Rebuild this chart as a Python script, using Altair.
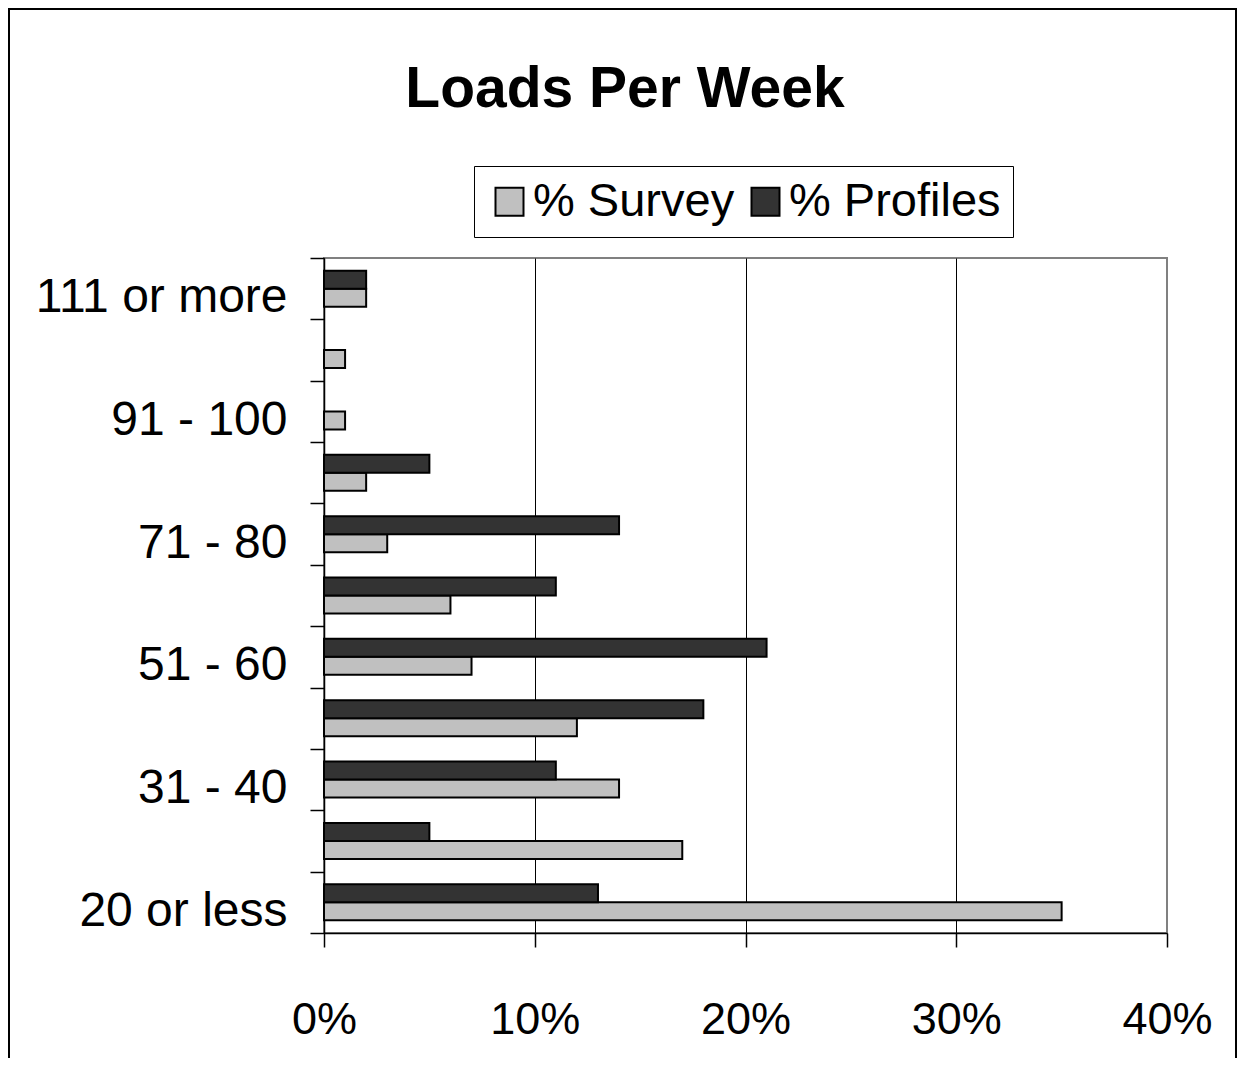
import json
import altair as alt
import pandas as pd

# ---- data ----
categories = ["111 or more", "101 - 110", "91 - 100", "81 - 90", "71 - 80",
              "61 - 70", "51 - 60", "41 - 50", "31 - 40", "21 - 30", "20 or less"]
survey = [2, 1, 1, 2, 3, 6, 7, 12, 14, 17, 35]
profiles = [2, 0, 0, 5, 14, 11, 21, 18, 11, 5, 13]
shown_labels = ["111 or more", "91 - 100", "71 - 80", "51 - 60", "31 - 40", "20 or less"]
series = ["% Survey", "% Profiles"]
series_colors = ["#c0c0c0", "#333333"]
x_ticks = [0, 10, 20, 30, 40]
title_text = "Loads Per Week"

rows = []
for c, s, p in zip(categories, survey, profiles):
    rows.append({"cat": c, "series": "% Survey", "value": s})
    rows.append({"cat": c, "series": "% Profiles", "value": p})
df = pd.DataFrame(rows)

FONT = "Liberation Sans"
W, H = 843, 675
PAD_L, PAD_T = 316, 250
SVG_W, SVG_H = 1229, 1050

label_expr = "indexof(" + json.dumps(shown_labels) + ", datum.label) >= 0 ? datum.label : ''"

bars = alt.Chart(df).transform_filter("datum.value > 0").mark_bar(
    stroke="black", strokeWidth=2
).encode(
    x=alt.X(
        "value:Q",
        scale=alt.Scale(domain=[0, 40], nice=False, zero=True),
        axis=alt.Axis(
            values=x_ticks, labelExpr="datum.value + '%'", title=None,
            grid=True,
            gridColor={"condition": {"test": "datum.value === 40", "value": "#808080"}, "value": "#000000"},
            gridWidth=1,
            domainColor="#000000", domainWidth=1.5,
            tickColor="#000000", tickSize=14, tickWidth=1.5,
            labelFont=FONT, labelFontSize=45, labelColor="#000000",
            labelPadding=50, labelFlush=False, labelOverlap=False,
        ),
    ),
    y=alt.Y(
        "cat:N",
        sort=categories,
        scale=alt.Scale(paddingInner=0, paddingOuter=0),
        axis=alt.Axis(
            title=None, tickBand="extent", labelExpr=label_expr,
            domainColor="#000000", domainWidth=1.5,
            tickColor="#000000", tickSize=14, tickWidth=1.5,
            labelFont=FONT, labelFontSize=48, labelColor="#000000",
            labelPadding=23, labelOffset=9, labelLimit=400, labelOverlap=False,
        ),
    ),
    yOffset=alt.YOffset(
        "series:N",
        sort=["% Profiles", "% Survey"],
        scale=alt.Scale(paddingInner=0, paddingOuter=0.705),
    ),
    color=alt.Color(
        "series:N",
        scale=alt.Scale(domain=series, range=series_colors),
        legend=alt.Legend(
            orient="none", legendX=150, legendY=-92, direction="horizontal",
            title=None, fillColor="white", strokeColor="#000000", padding=12,
            symbolType="square", symbolSize=784, symbolStrokeColor="#000000",
            symbolStrokeWidth=2, symbolOpacity=1,
            labelFont=FONT, labelFontSize=47, labelColor="#000000",
            labelOffset=0, columnPadding=7, labelLimit=500,
        ),
    ),
)

title = alt.Chart(pd.DataFrame({"text": [title_text]})).mark_text(
    font=FONT, fontSize=57, fontWeight="bold", align="center",
    baseline="alphabetic", color="#000000"
).encode(
    x=alt.value(625 - 324),
    y=alt.value(107 - 258),
    text="text:N",
)

border = alt.Chart(pd.DataFrame({"frame": [1]})).mark_rect(
    fill="transparent", stroke="#000000", strokeWidth=2
).encode(
    x=alt.value(1 - PAD_L),
    x2=alt.value(SVG_W - 1 - PAD_L),
    y=alt.value(1 - PAD_T),
    y2=alt.value(SVG_H + 20 - PAD_T),
)

chart = alt.layer(border, bars, title).properties(
    width=W,
    height=H,
    autosize=alt.AutoSizeParams(type="none"),
    padding={"left": PAD_L, "top": PAD_T,
             "right": SVG_W - PAD_L - W, "bottom": SVG_H - PAD_T - H},
).configure(
    font=FONT, background="white"
).configure_view(
    stroke="#808080", strokeWidth=2
)

chart.save("out.html", embed_options={"renderer": "svg", "actions": False})
